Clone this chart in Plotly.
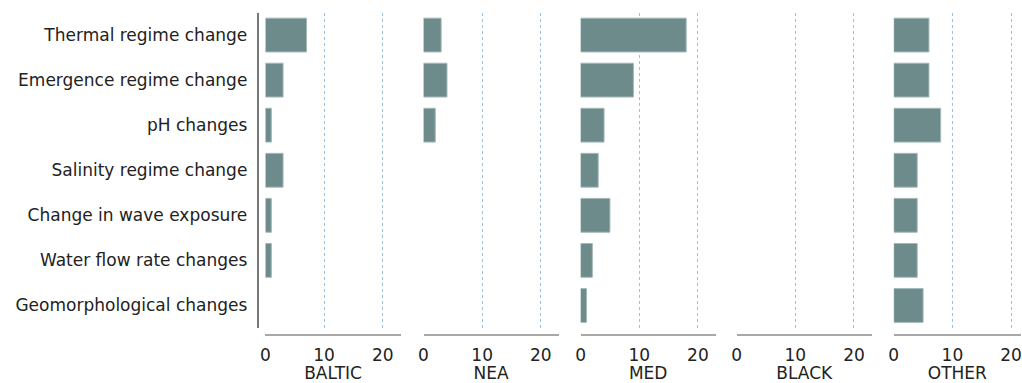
import plotly.graph_objects as go

W, H = 1022, 383

categories = ["Thermal regime change", "Emergence regime change", "pH changes",
              "Salinity regime change", "Change in wave exposure",
              "Water flow rate changes", "Geomorphological changes"]
regions = ["BALTIC", "NEA", "MED", "BLACK", "OTHER"]
baltic = [7, 3, 1, 3, 1, 1, 0]
nea = [3, 4, 2, 0, 0, 0, 0]
med = [18, 9, 4, 3, 5, 2, 1]
black = [0, 0, 0, 0, 0, 0, 0]
other = [6, 6, 8, 4, 4, 4, 5]
series = [baltic, nea, med, black, other]
ticks = [0, 10, 20]

FONT = "DejaVu Sans"
bar_color = "#6e8b8b"
px_per_unit = 5.9
zero_px = [262, 421, 579, 736, 894]
panel_len = 136

plot_top, plot_bot = 12.5, 328
xline_y = 335

fig = go.Figure()
layout = {}
for i, (name, vals) in enumerate(zip(regions, series)):
    n = "" if i == 0 else str(i + 1)
    x0 = zero_px[i]
    x1 = min(x0 + panel_len, W)
    rng_max = (x1 - x0) / px_per_unit
    fig.add_trace(go.Bar(
        x=vals, y=categories, orientation="h",
        marker=dict(color=bar_color,
                    line=dict(color="#a3b8b8", width=[1 if v > 0 else 0 for v in vals])),
        xaxis="x" + n, yaxis="y" + n, showlegend=False,
        hovertemplate="%{y}: %{x}<extra>" + name + "</extra>",
    ))
    layout["xaxis" + n] = dict(
        domain=[x0 / W, x1 / W], range=[0, rng_max],
        anchor="free", position=(H - xline_y) / H,
        tickvals=ticks, ticktext=[str(t) for t in ticks],
        showgrid=True, gridcolor="#8fc3ea", griddash="dot", gridwidth=1.2,
        zeroline=False, showline=True, linecolor="#a8a8a8", linewidth=2.2,
        ticks="", ticklabelstandoff=4, ticklabeloverflow="allow",
        tickfont=dict(family=FONT, size=17, color="#222222"),
        title=dict(text=name, font=dict(family=FONT, size=17, color="#222222"), standoff=2),
        fixedrange=True,
    )
    ycfg = dict(
        domain=[(H - plot_bot) / H, (H - plot_top) / H],
        categoryorder="array", categoryarray=categories[::-1],
        showgrid=False, zeroline=False, fixedrange=True,
    )
    if i == 0:
        ycfg.update(anchor="free", position=254 / W, showline=True,
                    linecolor="#777777", linewidth=1.5, ticks="",
                    ticklabelstandoff=6,
                    tickfont=dict(family=FONT, size=17, color="#222222"))
    else:
        ycfg.update(anchor="x" + n, showticklabels=False, showline=False,
                    matches="y")
    layout["yaxis" + n] = ycfg

fig.update_layout(
    **layout,
    width=W, height=H,
    margin=dict(l=0, r=0, t=0, b=0),
    bargap=0.25,
    plot_bgcolor="white", paper_bgcolor="white",
    font=dict(family=FONT, size=17, color="#222222"),
)

fig.write_html(
    "out.html",
    config={"displayModeBar": False},
    post_script="document.body.style.margin='0';document.body.style.padding='0';"
                "document.body.style.overflow='hidden';"
                "document.documentElement.style.overflow='hidden';",
)
